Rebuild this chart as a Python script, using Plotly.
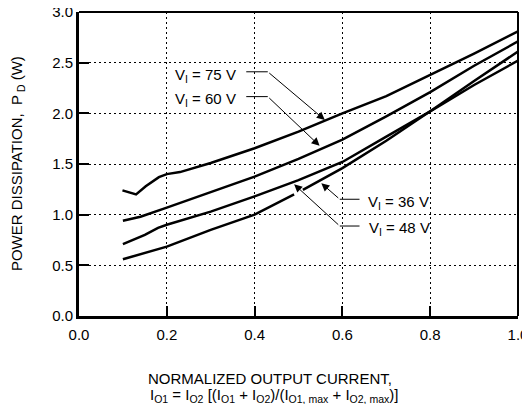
import plotly.graph_objects as go

# normalized output current / power dissipation
X_75 = [0.099, 0.13, 0.152, 0.182, 0.20, 0.23, 0.30, 0.34, 0.40, 0.50, 0.60, 0.70, 0.80, 0.90, 1.00]
PD_75 = [1.24, 1.20, 1.28, 1.37, 1.40, 1.42, 1.51, 1.57, 1.655, 1.82, 2.00, 2.17, 2.38, 2.59, 2.81]

X_60 = [0.10, 0.14, 0.20, 0.30, 0.40, 0.50, 0.60, 0.70, 0.80, 0.90, 1.00]
PD_60 = [0.94, 0.98, 1.07, 1.225, 1.375, 1.55, 1.74, 1.97, 2.21, 2.47, 2.71]

X_48 = [0.10, 0.15, 0.18, 0.20, 0.30, 0.40, 0.50, 0.60, 0.70, 0.80, 0.90, 1.00]
PD_48 = [0.71, 0.80, 0.87, 0.90, 1.03, 1.18, 1.34, 1.52, 1.77, 2.02, 2.28, 2.52]

# None leaves the small break where the 48 V leader crosses
X_36 = [0.10, 0.20, 0.30, 0.40, 0.49, 0.50, 0.51, 0.60, 0.70, 0.80, 0.90, 1.00]
PD_36 = [0.56, 0.685, 0.85, 1.00, 1.20, None, 1.245, 1.46, 1.73, 2.02, 2.32, 2.61]

X_TICKS = [0.0, 0.2, 0.4, 0.6, 0.8, 1.0]
Y_TICKS = [0.0, 0.5, 1.0, 1.5, 2.0, 2.5, 3.0]

# label text, text anchor, leader start, elbow, arrow tip
LABELS = [
    ("V<sub>I</sub> = 75 V", (0.363, 2.37), "right", (0.381, 2.41), (0.43, 2.41), (0.56, 1.935)),
    ("V<sub>I</sub> = 60 V", (0.363, 2.14), "right", (0.381, 2.165), (0.43, 2.165), (0.548, 1.68)),
    ("V<sub>I</sub> = 36 V", (0.653, 1.12), "left", (0.639, 1.152), (0.594, 1.152), (0.552, 1.31)),
    ("V<sub>I</sub> = 48 V", (0.655, 0.86), "left", (0.639, 0.888), (0.594, 0.888), (0.49, 1.30)),
]

FONT = "Liberation Sans, Arial, Helvetica, sans-serif"

fig = go.Figure()
for xs, ys in [(X_75, PD_75), (X_60, PD_60), (X_48, PD_48), (X_36, PD_36)]:
    fig.add_trace(
        go.Scatter(
            x=xs,
            y=ys,
            mode="lines",
            line={"color": "black", "width": 2.5},
            connectgaps=False,
            showlegend=False,
            hoverinfo="skip",
        )
    )

shapes = [
    # top and right frame, a little thinner than the axes
    {"type": "line", "xref": "paper", "yref": "paper", "x0": 0, "x1": 1, "y0": 1, "y1": 1,
     "line": {"color": "black", "width": 2}},
    {"type": "line", "xref": "paper", "yref": "paper", "x0": 1, "x1": 1, "y0": 0, "y1": 1,
     "line": {"color": "black", "width": 2}},
]
annotations = []
for text, (tx, ty), anchor, start, elbow, tip in LABELS:
    shapes.append(
        {"type": "line", "xref": "x", "yref": "y", "x0": start[0], "y0": start[1],
         "x1": elbow[0], "y1": elbow[1], "line": {"color": "black", "width": 1}}
    )
    annotations.append(
        dict(x=tip[0], y=tip[1], ax=elbow[0], ay=elbow[1], xref="x", yref="y",
             axref="x", ayref="y", text="", showarrow=True, arrowhead=2,
             arrowsize=1.6, arrowwidth=1, arrowcolor="black", standoff=0)
    )
    annotations.append(
        dict(x=tx, y=ty, xref="x", yref="y", text=text, showarrow=False,
             xanchor=anchor, yanchor="middle", font={"size": 15, "color": "black"})
    )

annotations += [
    dict(x=-0.141, y=0.5, xref="paper", yref="paper", textangle=-90,
         text="POWER DISSIPATION,  P<sub> D</sub> (W)", showarrow=False,
         xanchor="center", yanchor="middle", font={"size": 15, "color": "black"}),
    dict(x=0.436, y=-0.204, xref="paper", yref="paper",
         text="NORMALIZED OUTPUT CURRENT,", showarrow=False,
         xanchor="center", yanchor="middle", font={"size": 15, "color": "black"}),
    dict(x=0.445, y=-0.262, xref="paper", yref="paper",
         text="I<sub>O1</sub> = I<sub>O2</sub> [(I<sub>O1</sub> + I<sub>O2</sub>)/"
              "(I<sub>O1, max</sub> + I<sub>O2, max</sub>)]",
         showarrow=False, xanchor="center", yanchor="middle",
         font={"size": 15, "color": "black"}),
]

axis_common = dict(
    showline=True,
    linecolor="black",
    linewidth=3,
    mirror=False,
    ticks="inside",
    ticklen=10,
    tickwidth=1.5,
    tickcolor="black",
    showgrid=True,
    gridcolor="black",
    gridwidth=1,
    griddash="2px,3px",
    zeroline=False,
    automargin=False,
    ticklabeloverflow="allow",
    tickformat=".1f",
    tickfont={"size": 15, "color": "black"},
)

# the page body sits 8px in from the window edge; size the figure to the
# remaining window and shift margins so the plot area lands where the
# reference has it
fig.update_layout(
    width=522,
    height=396,
    margin={"l": 71, "r": 12, "t": 4, "b": 88},
    paper_bgcolor="white",
    plot_bgcolor="white",
    font={"family": FONT, "color": "black"},
    xaxis=dict(axis_common, range=[0, 1], tickvals=X_TICKS, ticklabelstandoff=3),
    yaxis=dict(axis_common, range=[0, 3], tickvals=Y_TICKS),
    shapes=shapes,
    annotations=annotations,
)

fig.write_html("out.html")
